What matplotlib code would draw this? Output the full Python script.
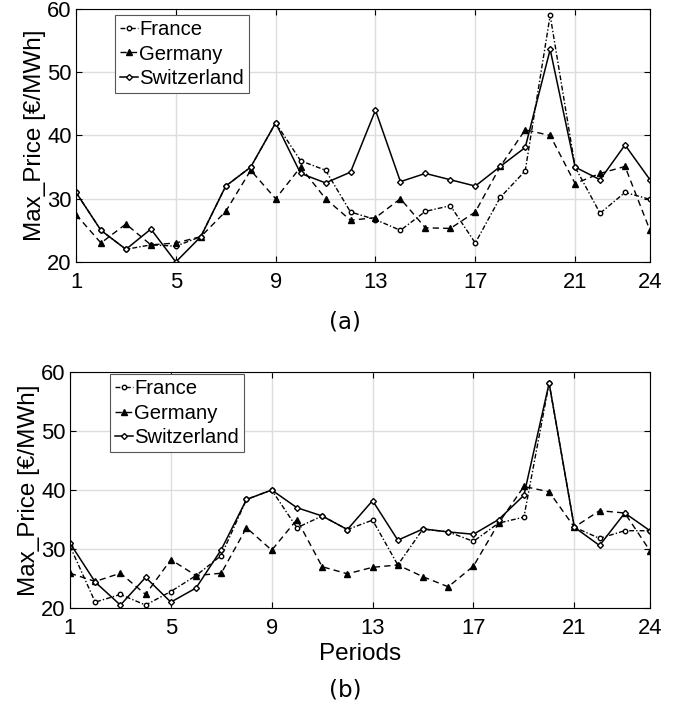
import matplotlib.pyplot as plt
import numpy as np

# Periods 1..24
periods = np.arange(1, 25)

# (a) max prices [EUR/MWh]
france_a = [31, 25, 22, 22.7, 22.5, 24, 32, 35, 42, 36, 34.5, 27.9,
            26.7, 25, 28, 28.9, 23, 30.2, 34.4, 59, 35, 27.7, 31, 29.9]
germany_a = [27.5, 23, 26, 22.7, 23, 24, 28, 34.5, 30, 35, 30, 26.6,
             27, 30, 25.4, 25.3, 27.9, 35.1, 40.9, 40, 32.4, 34, 35.1, 25]
swiss_a = [31, 25, 22, 25.2, 20, 24, 32, 35, 42, 34, 32.5, 34.2,
           44, 32.7, 34, 33, 32, 35.1, 38.1, 53.6, 35, 33, 38.5, 33]

# (b) max prices [EUR/MWh]
france_b = [30.5, 21, 22.3, 20.5, 22.8, 25.5, 28.9, 38.4, 40, 33.6, 35.6, 33.3,
            34.9, 27.3, 33.4, 32.9, 31.3, 34.4, 35.4, 58.1, 33.7, 31.8, 33.1, 33.1]
germany_b = [25.9, 24.5, 25.9, 22.3, 28.2, 25.5, 25.9, 33.6, 29.8, 35, 27, 25.8,
             26.9, 27.3, 25.3, 23.6, 27.1, 34.4, 40.6, 39.7, 33.7, 36.5, 36.1, 29.7]
swiss_b = [31, 24.4, 20.5, 25.2, 21, 23.4, 29.9, 38.4, 40, 37, 35.6, 33.3,
           38.2, 31.5, 33.4, 32.9, 32.5, 35, 39.1, 58.1, 33.7, 30.6, 36.1, 33.1]

plt.rcParams['font.family'] = ['Liberation Sans', 'DejaVu Sans']

fig = plt.figure(figsize=(6.86, 7.08), dpi=100)
ax1 = fig.add_axes([0.1108, 0.630, 0.8367, 0.3573])
ax2 = fig.add_axes([0.102, 0.1412, 0.8455, 0.3334])


def draw(ax, fr, de, ch, legend_bbox):
    ax.plot(periods, fr, color='black', lw=1.0, dashes=(3.5, 1.5, 1, 1.5),
            marker='o', ms=3.2, mfc='white', mec='black', mew=1.0, label='France')
    ax.plot(periods, de, color='black', lw=1.0, dashes=(4.5, 3),
            marker='^', ms=4.5, mfc='black', mec='black', label='Germany')
    ax.plot(periods, ch, '-', color='black', lw=1.1, marker='D', ms=3.0,
            mfc='white', mec='black', mew=1.0, label='Switzerland')
    ax.set_xlim(1, 24)
    ax.set_ylim(20, 60)
    ax.set_xticks([1, 5, 9, 13, 17, 21, 24])
    ax.set_yticks([20, 30, 40, 50, 60])
    ax.grid(True, color='#dddddd', lw=1.0)
    ax.set_axisbelow(True)
    ax.tick_params(direction='in', top=True, right=True, labelsize=15.8,
                   length=4, width=0.8)
    ax.tick_params(axis='x', pad=7)
    ax.tick_params(axis='y', pad=3)
    for s in ax.spines.values():
        s.set_linewidth(0.8)
    ax.set_ylabel('Max_Price [€/MWh]', fontsize=17.5, labelpad=1)
    leg = ax.legend(loc='upper left', bbox_to_anchor=legend_bbox, fontsize=14.6,
                    handlelength=0.9, handletextpad=0.05, borderpad=0.25,
                    labelspacing=0.28, fancybox=False, framealpha=1,
                    edgecolor='#555555', borderaxespad=0)
    leg.get_frame().set_linewidth(0.8)


draw(ax1, france_a, germany_a, swiss_a, (0.068, 0.977))
draw(ax2, france_b, germany_b, swiss_b, (0.069, 0.992))

ax2.set_xlabel('Periods', fontsize=17.5, labelpad=3)
fig.text(0.503, 0.545, '(a)', ha='center', va='center', fontsize=16.5,
         family='DejaVu Sans')
fig.text(0.503, 0.026, '(b)', ha='center', va='center', fontsize=16.5,
         family='DejaVu Sans')

fig.savefig('out.png', dpi=100)
